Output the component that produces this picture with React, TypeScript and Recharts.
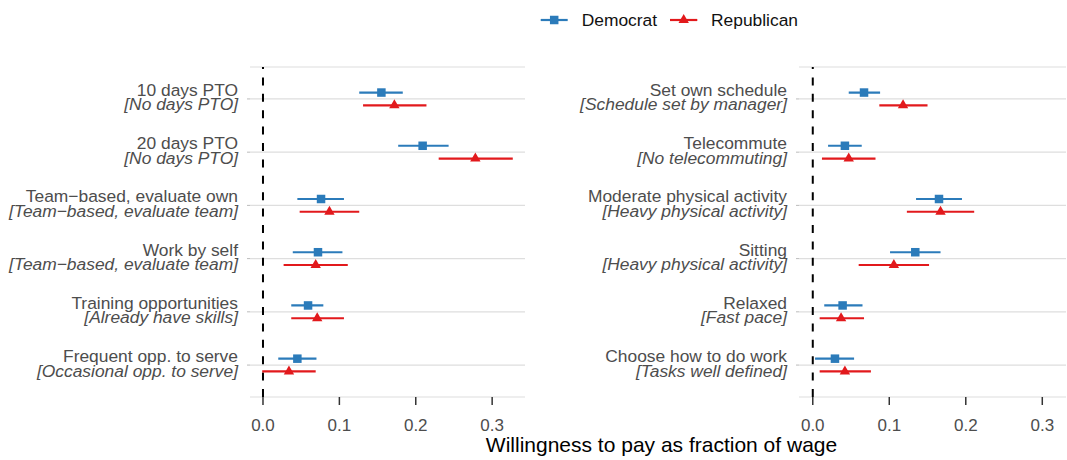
import React from 'react';
import { ScatterChart, Scatter, XAxis, YAxis, CartesianGrid, ReferenceLine, ErrorBar } from 'recharts';

const BLUE = '#2b7bba';
const RED = '#e2191c';
const FONT = '"Liberation Sans", Arial, Helvetica, sans-serif';

const SERIES = ['Democrat', 'Republican'];
const X_TICKS = [0, 0.1, 0.2, 0.3];

// left panel
const LEFT_LABELS = ['10 days PTO', '20 days PTO', 'Team\u2212based, evaluate own', 'Work by self', 'Training opportunities', 'Frequent opp. to serve'];
const LEFT_BASELINES = ['[No days PTO]', '[No days PTO]', '[Team\u2212based, evaluate team]', '[Team\u2212based, evaluate team]', '[Already have skills]', '[Occasional opp. to serve]'];
const DEM_LEFT = [0.155, 0.209, 0.076, 0.072, 0.059, 0.045];
const DEM_LEFT_LO = [0.126, 0.177, 0.045, 0.039, 0.037, 0.020];
const DEM_LEFT_HI = [0.183, 0.243, 0.106, 0.104, 0.079, 0.070];
const REP_LEFT = [0.172, 0.278, 0.087, 0.069, 0.071, 0.034];
const REP_LEFT_LO = [0.131, 0.230, 0.048, 0.027, 0.037, -0.001];
const REP_LEFT_HI = [0.214, 0.327, 0.126, 0.111, 0.106, 0.069];

// right panel
const RIGHT_LABELS = ['Set own schedule', 'Telecommute', 'Moderate physical activity', 'Sitting', 'Relaxed', 'Choose how to do work'];
const RIGHT_BASELINES = ['[Schedule set by manager]', '[No telecommuting]', '[Heavy physical activity]', '[Heavy physical activity]', '[Fast pace]', '[Tasks well defined]'];
const DEM_RIGHT = [0.067, 0.042, 0.165, 0.134, 0.039, 0.029];
const DEM_RIGHT_LO = [0.047, 0.020, 0.135, 0.101, 0.015, 0.003];
const DEM_RIGHT_HI = [0.088, 0.064, 0.195, 0.167, 0.065, 0.054];
const REP_RIGHT = [0.118, 0.047, 0.167, 0.106, 0.037, 0.042];
const REP_RIGHT_LO = [0.087, 0.012, 0.123, 0.060, 0.009, 0.009];
const REP_RIGHT_HI = [0.150, 0.082, 0.211, 0.152, 0.067, 0.076];

const DODGE = 0.12;

function rows(vals: number[], lo: number[], hi: number[], shift: number) {
  return vals.map((v, i) => ({ x: v, y: i + 1 + shift, err: [v - lo[i], hi[i] - v] }));
}

const SquareDot = (p: any) => (
  <rect x={p.cx - 4.25} y={p.cy - 4.25} width={8.5} height={8.5} fill={BLUE} />
);

const TriDot = (p: any) => {
  const a = 10.4;
  const h = 9;
  const { cx, cy } = p;
  return (
    <polygon
      points={`${cx},${cy - (2 * h) / 3} ${cx - a / 2},${cy + h / 3} ${cx + a / 2},${cy + h / 3}`}
      fill={RED}
    />
  );
};

const RowTick = ({ x, y, payload, labels, baselines }: any) => {
  const i = Math.round(payload.value) - 1;
  if (i < 0 || i >= labels.length) return null;
  return (
    <text x={x} y={y} textAnchor="end" fill="#4d4d4d" fontSize={17.4} fontFamily={FONT}>
      <tspan x={x} dy={-3.0}>{labels[i]}</tspan>
      <tspan x={x} dy={14.5} fontStyle="italic">{baselines[i]}</tspan>
    </text>
  );
};

type PanelProps = {
  left: number;
  width: number;
  marginRight: number;
  domain: [number, number];
  labels: string[];
  baselines: string[];
  dem: any[];
  rep: any[];
};

function Panel({ left, width, marginRight, domain, labels, baselines, dem, rep }: PanelProps) {
  return (
    <div style={{ position: 'absolute', left, top: 0 }}>
      <ScatterChart width={width} height={460} margin={{ top: 67, right: marginRight, bottom: 23, left: 0 }}>
        <CartesianGrid horizontal vertical={false} stroke="#dedede" strokeWidth={1.2} />
        <XAxis
          type="number"
          dataKey="x"
          domain={domain}
          ticks={X_TICKS}
          allowDataOverflow
          axisLine={false}
          tickSize={8}
          tickMargin={14}
          tickLine={{ stroke: '#333333', strokeWidth: 1.5 }}
          tick={{ fill: '#4d4d4d', fontSize: 17, fontFamily: FONT }}
          tickFormatter={(v: number) => v.toFixed(1)}
          height={40}
        />
        <YAxis
          type="number"
          dataKey="y"
          domain={[0.4, 6.6]}
          ticks={[1, 2, 3, 4, 5, 6]}
          reversed
          allowDataOverflow
          axisLine={false}
          tickSize={3}
          tickMargin={9}
          tickLine={{ stroke: '#bbbbbb' }}
          width={250}
          tick={<RowTick labels={labels} baselines={baselines} />}
        />
        <ReferenceLine x={0} stroke="#000000" strokeWidth={2} strokeDasharray="8 8.4" />
        <Scatter name={SERIES[0]} data={dem} shape={SquareDot} isAnimationActive={false}>
          <ErrorBar dataKey="err" direction="x" width={0} stroke={BLUE} strokeWidth={2.2} />
        </Scatter>
        <Scatter name={SERIES[1]} data={rep} shape={TriDot} isAnimationActive={false}>
          <ErrorBar dataKey="err" direction="x" width={0} stroke={RED} strokeWidth={2.2} />
        </Scatter>
      </ScatterChart>
    </div>
  );
}

function LegendBar() {
  return (
    <svg width={1067} height={40} style={{ position: 'absolute', left: 0, top: 0 }}>
      <line x1={540.7} x2={567.7} y1={20} y2={20} stroke={BLUE} strokeWidth={2.2} />
      <SquareDot cx={554.2} cy={20} />
      <text x={581.7} y={25.5} fontSize={17.4} fontFamily={FONT} fill="#111">{SERIES[0]}</text>
      <line x1={670} x2={697.3} y1={20} y2={20} stroke={RED} strokeWidth={2.2} />
      <TriDot cx={683.7} cy={20} />
      <text x={711} y={25.5} fontSize={17.4} fontFamily={FONT} fill="#111">{SERIES[1]}</text>
    </svg>
  );
}

export default function App() {
  return (
    <div style={{ position: 'absolute', left: 0, top: 0, width: 1067, height: 460, background: '#fff', fontFamily: FONT }}>
      <LegendBar />
      <Panel
        left={0}
        width={527}
        marginRight={2}
        domain={[-0.017, 0.343]}
        labels={LEFT_LABELS}
        baselines={LEFT_BASELINES}
        dem={rows(DEM_LEFT, DEM_LEFT_LO, DEM_LEFT_HI, -DODGE)}
        rep={rows(REP_LEFT, REP_LEFT_LO, REP_LEFT_HI, DODGE)}
      />
      <Panel
        left={549}
        width={518}
        marginRight={1}
        domain={[-0.018, 0.331]}
        labels={RIGHT_LABELS}
        baselines={RIGHT_BASELINES}
        dem={rows(DEM_RIGHT, DEM_RIGHT_LO, DEM_RIGHT_HI, -DODGE)}
        rep={rows(REP_RIGHT, REP_RIGHT_LO, REP_RIGHT_HI, DODGE)}
      />
      <div
        style={{
          position: 'absolute',
          left: 411.5,
          width: 500,
          top: 434,
          textAlign: 'center',
          fontSize: 21,
          lineHeight: 1,
          color: '#000',
        }}
      >
        Willingness to pay as fraction of wage
      </div>
    </div>
  );
}
